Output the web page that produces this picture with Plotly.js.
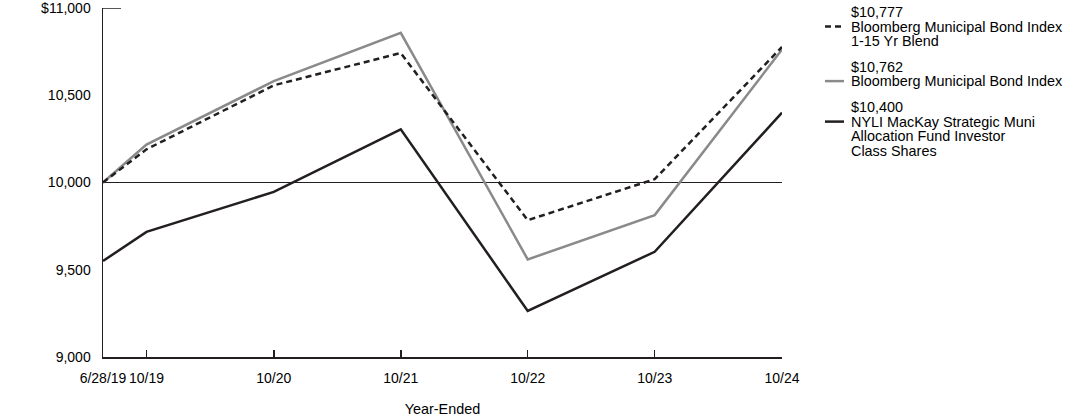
<!DOCTYPE html>
<html>
<head>
<meta charset="utf-8">
<script src="https://cdn.plot.ly/plotly-3.0.1.min.js"></script>
<style>html,body{margin:0;padding:0;background:#fff;}#chart{width:1092px;height:417px;}</style>
</head>
<body>
<div id="chart"></div>
<script>
// ---- data ----
const dates = ['2019-06-28','2019-10-31','2020-10-31','2021-10-31','2022-10-31','2023-10-31','2024-10-31'];
const tickLabels = ['6/28/19','10/19','10/20','10/21','10/22','10/23','10/24'];
const blendName = 'Bloomberg Municipal Bond Index 1-15 Yr Blend';
const blendValues = [10000, 10190, 10557, 10742, 9784, 10019, 10777];
const muniName = 'Bloomberg Municipal Bond Index';
const muniValues = [10000, 10217, 10581, 10858, 9559, 9813, 10762];
const fundName = 'NYLI MacKay Strategic Muni Allocation Fund Investor Class Shares';
const fundValues = [9550, 9717, 9946, 10305, 9264, 9603, 10400];
const yTickVals = [9000, 9500, 10000, 10500, 11000];
const yTickText = ['9,000', '9,500', '10,000', '10,500', '$11,000'];
const legendLines = [
  ['Bloomberg Municipal Bond Index', '1-15 Yr Blend'],
  ['Bloomberg Municipal Bond Index'],
  ['NYLI MacKay Strategic Muni', 'Allocation Fund Investor', 'Class Shares']
];

// ---- layout geometry ----
const W = 1092, H = 417;
const M = {l: 103, r: 310, t: 8, b: 60};
const PW = W - M.l - M.r, PH = H - M.t - M.b;
const px2x = p => (p - M.l) / PW;
const py2y = p => (H - M.b - p) / PH;
const FONT = '"Liberation Sans", Arial, sans-serif';
const BLACK = '#231f20', GRAY = '#8a8a8a';

const fmt = v => '$' + v.toLocaleString('en-US');

const traces = [
  {x: dates, y: fundValues, name: fundName, mode: 'lines', line: {color: BLACK, width: 2.5}},
  {x: dates, y: muniValues, name: muniName, mode: 'lines', line: {color: GRAY, width: 2.5}},
  {x: dates, y: blendValues, name: blendName, mode: 'lines', line: {color: BLACK, width: 2.5, dash: '6px,4px'}}
];

// legend (manual)
const legendSpec = [
  {vals: blendValues, lines: legendLines[0], top: 12, color: BLACK, dash: '6px,4px'},
  {vals: muniValues, lines: legendLines[1], top: 66.5, color: GRAY, dash: 'solid'},
  {vals: fundValues, lines: legendLines[2], top: 107, color: BLACK, dash: 'solid'}
];
const LH = 14.6;
const annotations = [];
const shapes = [
  {type: 'line', xref: 'paper', yref: 'y', x0: 0, x1: 1, y0: 10000, y1: 10000, line: {color: BLACK, width: 1}, layer: 'below'},
  {type: 'line', xref: 'paper', yref: 'y', x0: 0, x1: px2x(121), y0: 11000, y1: 11000, line: {color: BLACK, width: 1.5}}
];
legendSpec.forEach(s => {
  const all = [fmt(s.vals[s.vals.length - 1])].concat(s.lines);
  all.forEach((t, i) => {
    annotations.push({
      text: t, xref: 'paper', yref: 'paper', x: px2x(849), y: py2y(s.top + i * LH),
      xanchor: 'left', yanchor: 'middle', showarrow: false,
      font: {family: FONT, size: 14.4, color: '#000'}
    });
  });
  const ly = py2y(s.top + LH);
  shapes.push({type: 'line', xref: 'paper', yref: 'paper', x0: px2x(825), x1: px2x(844), y0: ly, y1: ly,
    line: {color: s.color, width: 2.5, dash: s.dash}});
});

const layout = {
  width: W, height: H,
  margin: M,
  paper_bgcolor: '#fff', plot_bgcolor: '#fff',
  showlegend: false,
  font: {family: FONT, size: 14, color: '#000'},
  xaxis: {
    type: 'date', range: [dates[0], dates[dates.length - 1]],
    tickmode: 'array', tickvals: dates, ticktext: tickLabels, tickangle: 0,
    ticks: 'inside', ticklen: 7, tickwidth: 1.5, tickcolor: BLACK,
    ticklabelstandoff: 8, ticklabeloverflow: 'allow',
    showline: true, linecolor: BLACK, linewidth: 1.5,
    showgrid: false, zeroline: false,
    tickfont: {family: FONT, size: 14, color: '#000'},
    title: {text: 'Year-Ended', font: {family: FONT, size: 14.4, color: '#000'}, standoff: 19}
  },
  yaxis: {
    range: [9000, 11000],
    tickmode: 'array', tickvals: yTickVals, ticktext: yTickText,
    ticks: '', ticklabelstandoff: 8, ticklabeloverflow: 'allow',
    showline: true, linecolor: BLACK, linewidth: 1.5,
    showgrid: false, zeroline: false,
    tickfont: {family: FONT, size: 14, color: '#000'}
  },
  shapes: shapes,
  annotations: annotations
};

Plotly.newPlot('chart', traces, layout, {displayModeBar: false, staticPlot: true});
</script>
</body>
</html>
